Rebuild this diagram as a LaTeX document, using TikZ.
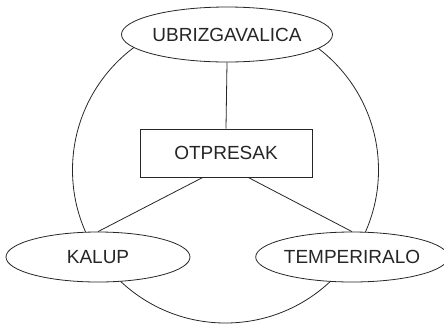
\documentclass[tikz,border=0pt]{standalone}
\usepackage{fontspec}
\setmainfont{Liberation Sans}
\usetikzlibrary{shapes.geometric,calc}
\begin{document}
\begin{tikzpicture}[x=1pt,y=-1pt,
  line width=0.8pt,
  conn/.style={draw=black!85},
  ent/.style={ellipse, draw=black!85, fill=white, inner sep=0pt, font=\fontsize{19}{22}\selectfont, text=black!85},
  boxn/.style={rectangle, draw=black!85, fill=white, inner sep=0pt, minimum width=172pt, minimum height=48pt, font=\fontsize{19}{22}\selectfont, text=black!85}]
\useasboundingbox (0,0) rectangle (444,325);
\coordinate (c) at (225.5,170);
\draw[conn] (c) circle [radius=153pt];
\node[ent, minimum width=186pt, minimum height=55pt] (u) at (227,34.5) {UBRIZGAVALICA};
\node[boxn] (b) at (226,153) {OTPRESAK};
\node[ent, minimum width=184pt, minimum height=50pt] (k) at (98,257) {KALUP};
\node[ent, minimum width=180pt, minimum height=50pt] (t) at (352,257) {TEMPERIRALO};
\draw[conn] (u.south) -- (b.north);
\draw[conn] ($(b.south west)!0.366!(b.south east)$) -- (k.north);
\draw[conn] ($(b.south west)!0.628!(b.south east)$) -- (t.north);
\end{tikzpicture}
\end{document}
